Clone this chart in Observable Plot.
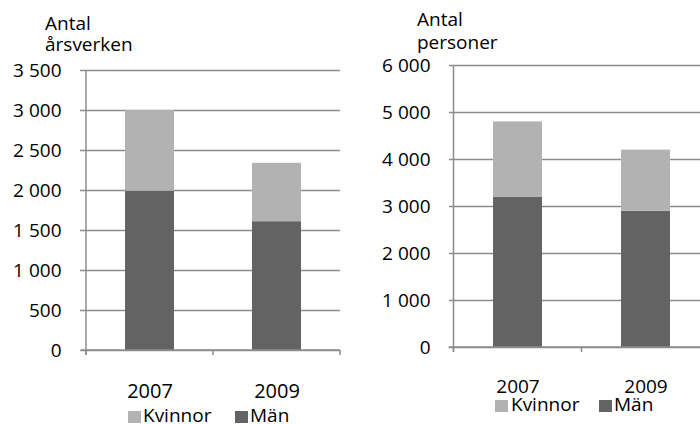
<!DOCTYPE html>
<html><head><meta charset="utf-8">
<script src="https://cdn.jsdelivr.net/npm/d3@7"></script>
<script src="https://cdn.jsdelivr.net/npm/@observablehq/plot@0.6"></script>
<style>
body{margin:0;background:#fff;}
#root{position:relative;width:700px;height:424px;overflow:hidden;font-family:"Open Sans",sans-serif;color:#000;background:#fff;}
.abs{position:absolute;white-space:nowrap;line-height:19px;font-size:19px;}
.sw{position:absolute;width:13px;height:12px;}
svg{position:absolute;top:0;}
</style></head><body><div id="root"></div>
<script>
// ---- data ----
const years = ["2007", "2009"];
const series = ["Män", "Kvinnor"];          // stack order bottom -> top
const seriesColors = ["#636363", "#b2b2b2"];
const legendOrder = ["Kvinnor", "Män"];
const arsverkenMan = [1990, 1610];
const arsverkenKvinnor = [1010, 730];
const personerMan = [3200, 2900];
const personerKvinnor = [1600, 1300];
const arsverkenTicks = [0, 500, 1000, 1500, 2000, 2500, 3000, 3500];
const personerTicks = [0, 1000, 2000, 3000, 4000, 5000, 6000];
const titleArsverken = ["Antal", "årsverken"];
const titlePersoner = ["Antal", "personer"];

const axisColor = "#8c8c8c";
const fmt = d => d3.format(",")(d).replace(/,/g, " ");

function panel(o) {
  const rows = [];
  years.forEach((yr, i) => {
    rows.push({year: yr, serie: "Män", value: o.man[i]});
    rows.push({year: yr, serie: "Kvinnor", value: o.kvinnor[i]});
  });
  const ticks = o.ticks;
  const frameMark = (index, scales) => {
    const x = scales.x, y = scales.y;
    const step = x(years[1]) - x(years[0]);
    let bw = x.bandwidth;
    bw = typeof bw === "function" ? bw() : (typeof bw === "number" ? bw : step * 0.384);
    const gap = (step - bw) / 2;
    const bounds = years.map(yr => x(yr) - gap);
    bounds.push(x(years[years.length - 1]) + bw + gap);
    const y0 = y(0), yTop = y(ticks[ticks.length - 1]);
    const g = d3.create("svg:g").attr("stroke", axisColor).attr("stroke-width", 1.5).attr("fill", "none");
    g.append("line").attr("x1", bounds[0] - 5).attr("x2", bounds[bounds.length - 1]).attr("y1", y0).attr("y2", y0);
    g.append("line").attr("x1", bounds[0]).attr("x2", bounds[0]).attr("y1", yTop).attr("y2", y0 + 5);
    bounds.forEach(b => g.append("line").attr("x1", b).attr("x2", b).attr("y1", y0).attr("y2", y0 + 5));
    return g.node();
  };
  const svg = Plot.plot({
    width: o.width, height: o.height,
    marginLeft: o.marginLeft, marginRight: o.marginRight,
    marginTop: o.marginTop, marginBottom: o.marginBottom,
    style: {fontFamily: "Open Sans", fontSize: "19px", color: "#000", background: "transparent", overflow: "visible"},
    x: {domain: years, paddingInner: 0.616, paddingOuter: 0.308, axis: null},
    y: {domain: [0, ticks[ticks.length - 1]], axis: null},
    color: {domain: series, range: seriesColors},
    marks: [
      Plot.gridY(ticks, {stroke: axisColor, strokeOpacity: 1, strokeWidth: 1.5}),
      Plot.axisY(ticks, {tickSize: 5, tickPadding: 19, tickFormat: fmt, stroke: axisColor, strokeWidth: 1.5, label: null, fontSize: 19}),
      Plot.barY(rows, {x: "year", y: "value", fill: "serie"}),
      Plot.axisX({tickSize: 0, tickPadding: o.yearPad, fontSize: o.yearFont, label: null}),
      frameMark
    ]
  });
  svg.style.left = o.left + "px";
  return svg;
}

const root = document.getElementById("root");
root.appendChild(panel({man: arsverkenMan, kvinnor: arsverkenKvinnor, ticks: arsverkenTicks,
  left: 0, width: 350, height: 400, marginLeft: 85, marginRight: 10, marginTop: 70, marginBottom: 50,
  yearFont: 20, yearPad: 33}));
root.appendChild(panel({man: personerMan, kvinnor: personerKvinnor, ticks: personerTicks,
  left: 350, width: 360, height: 400, marginLeft: 104, marginRight: 0, marginTop: 65, marginBottom: 53,
  yearFont: 19, yearPad: 31.5}));

function addText(txt, left, baseline) {
  const d = document.createElement("div");
  d.className = "abs";
  d.textContent = txt;
  d.style.left = left + "px";
  d.style.top = (baseline - 17) + "px";
  root.appendChild(d);
}
// axis titles
addText(titleArsverken[0], 45, 31);
addText(titleArsverken[1], 45, 52);
addText(titlePersoner[0], 417, 27);
addText(titlePersoner[1], 417, 50);

// legends
function legend(items) {
  items.forEach(it => {
    const name = legendOrder[it.k];
    const s = document.createElement("div");
    s.className = "sw";
    s.style.left = it.sx + "px";
    s.style.top = it.sy + "px";
    s.style.background = seriesColors[series.indexOf(name)];
    root.appendChild(s);
    addText(name, it.tx, it.base);
  });
}
legend([{k: 0, sx: 128, sy: 411, tx: 143, base: 423}, {k: 1, sx: 235, sy: 411, tx: 250, base: 423}]);
legend([{k: 0, sx: 495, sy: 400, tx: 511, base: 412}, {k: 1, sx: 599, sy: 400, tx: 614, base: 412}]);
</script>
</body></html>
